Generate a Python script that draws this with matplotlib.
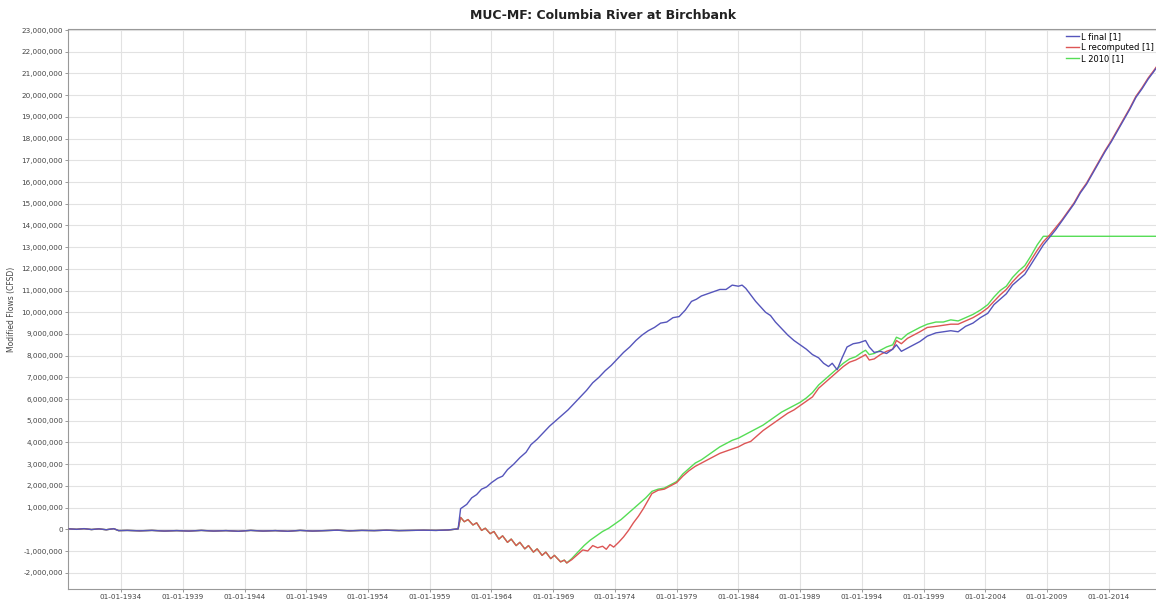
import matplotlib
matplotlib.use("Agg")
import matplotlib.pyplot as plt
from matplotlib.ticker import FuncFormatter

# decimal years, values in millions of CFSD
base_years = [1929.8, 1930.4, 1931.0, 1931.6, 1932.2, 1932.8, 1933.4, 1933.8, 1934.5, 1935.5,
              1936.5, 1937.5, 1938.5, 1939.5, 1940.5, 1941.5, 1942.5, 1943.5, 1944.5, 1945.5,
              1946.5, 1947.5, 1948.5, 1949.5, 1950.5, 1951.5, 1952.5, 1953.5, 1954.5, 1955.5,
              1956.5, 1957.5, 1958.5, 1959.5, 1960.5, 1961.3]
base_vals = [0.02, 0.0, 0.03, -0.01, 0.02, -0.02, 0.03, -0.06, -0.05, -0.07,
             -0.05, -0.08, -0.06, -0.08, -0.05, -0.08, -0.06, -0.09, -0.05, -0.08,
             -0.06, -0.09, -0.05, -0.08, -0.06, -0.04, -0.07, -0.05, -0.06, -0.04,
             -0.06, -0.05, -0.04, -0.05, -0.03, 0.02]

final_years = [1961.5, 1962.0, 1962.4, 1962.8, 1963.2, 1963.6, 1964.0, 1964.5, 1964.9, 1965.3,
               1965.8, 1966.3, 1966.8, 1967.2, 1967.7, 1968.2, 1968.7, 1969.2, 1969.7, 1970.2,
               1970.7, 1971.2, 1971.7, 1972.2, 1972.7, 1973.2, 1973.7, 1974.2, 1974.7, 1975.2,
               1975.7, 1976.2, 1976.7, 1977.2, 1977.7, 1978.2, 1978.7, 1979.2, 1979.7, 1980.2,
               1980.6, 1981.0, 1981.5, 1982.0, 1982.5, 1983.0, 1983.5, 1984.0, 1984.3, 1984.6,
               1985.0, 1985.4, 1985.8, 1986.2, 1986.6, 1987.0, 1987.5, 1988.0, 1988.5, 1989.0,
               1989.5, 1990.0, 1990.5, 1990.9, 1991.3, 1991.6, 1992.0, 1992.4, 1992.8, 1993.3,
               1993.8, 1994.3, 1994.6, 1995.0, 1995.5, 1996.0, 1996.5, 1996.8, 1997.2, 1997.7,
               1998.2, 1998.7, 1999.3, 2000.0, 2000.6, 2001.2, 2001.8, 2002.4, 2003.0, 2003.6,
               2004.2, 2004.7, 2005.2, 2005.7, 2006.2, 2006.7, 2007.2, 2007.7, 2008.2, 2008.7,
               2009.2, 2009.7, 2010.2, 2010.7, 2011.2, 2011.7, 2012.2, 2012.7, 2013.2, 2013.7,
               2014.2, 2014.7, 2015.2, 2015.7, 2016.2, 2016.7, 2017.2, 2017.6, 2018.1]
final_vals = [0.95, 1.15, 1.45, 1.6, 1.85, 1.95, 2.15, 2.35, 2.45, 2.75,
              3.0, 3.3, 3.55, 3.9, 4.15, 4.45, 4.75, 5.0, 5.25, 5.5,
              5.8, 6.1, 6.4, 6.75, 7.0, 7.3, 7.55, 7.85, 8.15, 8.4,
              8.7, 8.95, 9.15, 9.3, 9.5, 9.55, 9.75, 9.8, 10.1, 10.5,
              10.6, 10.75, 10.85, 10.95, 11.05, 11.05, 11.25, 11.2, 11.25, 11.1,
              10.8, 10.5, 10.25, 10.0, 9.85, 9.55, 9.25, 8.95, 8.7, 8.5,
              8.3, 8.05, 7.9, 7.65, 7.5, 7.65, 7.35, 7.9, 8.4, 8.55,
              8.6, 8.7, 8.4, 8.15, 8.2, 8.1, 8.3, 8.5, 8.2, 8.35,
              8.5, 8.65, 8.9, 9.05, 9.1, 9.15, 9.1, 9.35, 9.5, 9.75,
              9.95, 10.35, 10.6, 10.85, 11.25, 11.5, 11.75, 12.2, 12.65, 13.1,
              13.45, 13.8, 14.2, 14.6, 15.0, 15.5, 15.9, 16.4, 16.9, 17.4,
              17.85, 18.35, 18.85, 19.35, 19.9, 20.3, 20.75, 21.05, 21.45]

drop_years = [1961.5, 1961.8, 1962.1, 1962.5, 1962.8, 1963.2, 1963.5, 1963.9, 1964.2, 1964.6,
              1964.9, 1965.3, 1965.6, 1966.0, 1966.3, 1966.7, 1967.0, 1967.4, 1967.7, 1968.1,
              1968.4, 1968.8, 1969.1, 1969.6, 1969.9, 1970.1]
drop_vals = [0.55, 0.35, 0.45, 0.2, 0.3, -0.05, 0.05, -0.2, -0.1, -0.45,
             -0.3, -0.6, -0.45, -0.75, -0.6, -0.9, -0.75, -1.05, -0.9, -1.2,
             -1.05, -1.35, -1.2, -1.5, -1.42, -1.55]

recomp_years = [1970.5, 1971.0, 1971.4, 1971.8, 1972.2, 1972.6, 1973.0, 1973.3, 1973.6, 1973.9,
                1974.3, 1974.7, 1975.1, 1975.5, 1975.9, 1976.3, 1976.7, 1977.0, 1977.5, 1978.0,
                1978.5, 1979.0, 1979.5, 1980.0, 1980.5, 1981.0, 1981.5, 1982.0, 1982.5, 1983.0,
                1983.5, 1984.0, 1984.5, 1985.0, 1985.5, 1986.0, 1986.5, 1987.0, 1987.5, 1988.0,
                1988.5, 1989.0, 1989.5, 1990.0, 1990.5, 1991.0, 1991.5, 1992.0, 1992.5, 1993.0,
                1993.5, 1994.0, 1994.3, 1994.6, 1995.0, 1995.5, 1996.0, 1996.5, 1996.8, 1997.2,
                1997.7, 1998.2, 1998.7, 1999.3, 2000.0, 2000.6, 2001.2, 2001.8, 2002.4, 2003.0,
                2003.6, 2004.2, 2004.7, 2005.2, 2005.7, 2006.2, 2006.7, 2007.2, 2007.7, 2008.2,
                2008.7, 2009.2, 2009.7, 2010.2, 2010.7, 2011.2, 2011.7, 2012.2, 2012.7, 2013.2,
                2013.7, 2014.2, 2014.7, 2015.2, 2015.7, 2016.2, 2016.7, 2017.2, 2017.6, 2018.1]
recomp_vals = [-1.4, -1.15, -0.95, -1.0, -0.75, -0.85, -0.78, -0.92, -0.7, -0.82,
               -0.6, -0.35, -0.05, 0.3, 0.6, 0.95, 1.35, 1.65, 1.8, 1.85,
               2.0, 2.15, 2.45, 2.7, 2.9, 3.05, 3.2, 3.35, 3.5, 3.6,
               3.7, 3.8, 3.95, 4.05, 4.3, 4.55, 4.75, 4.95, 5.15, 5.35,
               5.5, 5.7, 5.9, 6.1, 6.5, 6.75, 7.0, 7.25, 7.5, 7.7,
               7.8, 7.95, 8.05, 7.8, 7.85, 8.05, 8.2, 8.3, 8.7, 8.55,
               8.8, 8.95, 9.1, 9.3, 9.35, 9.4, 9.45, 9.45, 9.6, 9.75,
               9.95, 10.2, 10.5, 10.8, 11.05, 11.4, 11.7, 11.95, 12.4, 12.85,
               13.25, 13.55, 13.9, 14.25, 14.65, 15.05, 15.55, 15.95, 16.45, 16.95,
               17.45, 17.9, 18.4, 18.9, 19.4, 19.95, 20.35, 20.8, 21.1, 21.5]

y2010_years = [1970.5, 1971.0, 1971.5, 1972.0, 1972.5, 1973.0, 1973.5, 1974.0, 1974.5, 1975.0,
               1975.5, 1976.0, 1976.5, 1977.0, 1977.5, 1978.0, 1978.5, 1979.0, 1979.5, 1980.0,
               1980.5, 1981.0, 1981.5, 1982.0, 1982.5, 1983.0, 1983.5, 1984.0, 1984.5, 1985.0,
               1985.5, 1986.0, 1986.5, 1987.0, 1987.5, 1988.0, 1988.5, 1989.0, 1989.5, 1990.0,
               1990.5, 1991.0, 1991.5, 1992.0, 1992.5, 1993.0, 1993.5, 1994.0, 1994.3, 1994.6,
               1995.0, 1995.5, 1996.0, 1996.5, 1996.8, 1997.2, 1997.7, 1998.2, 1998.7, 1999.3,
               2000.0, 2000.6, 2001.2, 2001.8, 2002.4, 2003.0, 2003.6, 2004.2, 2004.7, 2005.2,
               2005.7, 2006.2, 2006.7, 2007.2, 2007.7, 2008.2, 2008.7, 2018.1]
y2010_vals = [-1.35, -1.05, -0.75, -0.5, -0.3, -0.1, 0.05, 0.25, 0.45, 0.7,
              0.95, 1.2, 1.45, 1.75, 1.85, 1.9, 2.05, 2.2, 2.55, 2.8,
              3.05, 3.2, 3.4, 3.6, 3.8, 3.95, 4.1, 4.2, 4.35, 4.5,
              4.65, 4.8, 5.0, 5.2, 5.4, 5.55, 5.7, 5.85, 6.05, 6.3,
              6.65, 6.9, 7.15, 7.4, 7.65, 7.85, 7.95, 8.15, 8.25, 8.05,
              8.1, 8.25, 8.4, 8.5, 8.85, 8.75, 9.0, 9.15, 9.3, 9.45,
              9.55, 9.55, 9.65, 9.6, 9.75, 9.9, 10.1, 10.35, 10.7, 11.0,
              11.2, 11.6, 11.9, 12.15, 12.6, 13.1, 13.5, 13.5]

tick_years = [1934, 1939, 1944, 1949, 1954, 1959, 1964, 1969, 1974, 1979,
              1984, 1989, 1994, 1999, 2004, 2009, 2014]
tick_labels = [f"01-01-{y}" for y in tick_years]

SCALE = 1e6
final_x = base_years + final_years
final_y = [v * SCALE for v in base_vals + final_vals]
recomp_x = base_years + drop_years + recomp_years
recomp_y = [v * SCALE for v in base_vals + drop_vals + recomp_vals]
l2010_x = base_years + drop_years + y2010_years
l2010_y = [v * SCALE for v in base_vals + drop_vals + y2010_vals]

fig = plt.figure(figsize=(11.56, 6.01), dpi=100)
ax = fig.add_axes([68 / 1156, 12 / 601, 1092 / 1156, 560 / 601])

ax.plot(l2010_x, l2010_y, color="#55dd55", linewidth=1.0, label="L 2010 [1]", zorder=3)
ax.plot(recomp_x, recomp_y, color="#dd5555", linewidth=1.0, label="L recomputed [1]", zorder=4)
ax.plot(final_x, final_y, color="#5555bb", linewidth=1.0, label="L final [1]", zorder=5)

ax.set_xlim(1929.7, 2018.15)
ax.set_ylim(-2.75e6, 23.05e6)
ax.set_yticks([i * 1e6 for i in range(-2, 24)])
ax.yaxis.set_major_formatter(FuncFormatter(lambda v, p: f"{v:,.0f}"))
ax.set_xticks(tick_years)
ax.set_xticklabels(tick_labels)
ax.tick_params(axis="both", labelsize=5.2, labelcolor="#444444", length=2, width=0.6,
               color="#888888", pad=1.5)
ax.grid(True, color="#e2e2e2", linewidth=0.8)
ax.set_axisbelow(True)
for side in ["left", "bottom", "top"]:
    ax.spines[side].set_color("#999999")
    ax.spines[side].set_linewidth(0.8)
ax.spines["right"].set_visible(False)

ax.set_ylabel("Modified Flows (CFSD)", fontsize=5.5, color="#444444", labelpad=4)
fig.text(0.522, 0.985, "MUC-MF: Columbia River at Birchbank", ha="center", va="top",
         fontsize=9, fontweight="bold", color="#222222")

handles, labels = ax.get_legend_handles_labels()
order = [2, 1, 0]
fig.legend([handles[i] for i in order], [labels[i] for i in order],
           loc="upper left", bbox_to_anchor=(1063 / 1156, 1 - 29 / 601), frameon=False,
           fontsize=6, handlelength=1.5, handletextpad=0.3, labelspacing=0.2,
           borderaxespad=0)

fig.savefig("out.png", dpi=100)
